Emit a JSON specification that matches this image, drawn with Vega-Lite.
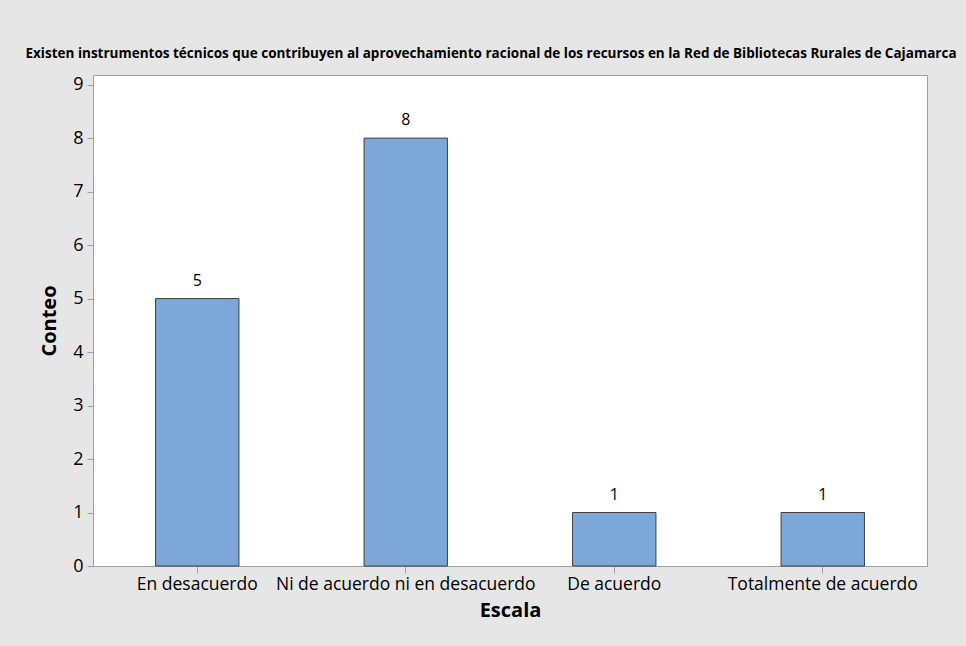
{
  "$schema": "https://vega.github.io/schema/vega-lite/v6.json",
  "autosize": {"type": "none"},
  "width": 834,
  "height": 491,
  "padding": {"left": 93, "top": 75, "right": 39, "bottom": 80},
  "background": "#e6e6e6",
  "title": {
    "text": "Existen instrumentos técnicos que contribuyen al aprovechamiento racional de los recursos en la Red de Bibliotecas Rurales de Cajamarca",
    "font": "Open Sans",
    "fontSize": 13.5,
    "fontWeight": "bold",
    "color": "#000000",
    "anchor": "middle",
    "dx": -19,
    "offset": 4,
    "baseline": "alphabetic"
  },
  "config": {
    "view": {"fill": "#ffffff", "stroke": "#a0a0a0", "strokeWidth": 1},
    "font": "Open Sans"
  },
  "data": {
    "values": [
      {"Escala": "En desacuerdo", "Conteo": 5},
      {"Escala": "Ni de acuerdo ni en desacuerdo", "Conteo": 8},
      {"Escala": "De acuerdo", "Conteo": 1},
      {"Escala": "Totalmente de acuerdo", "Conteo": 1}
    ]
  },
  "encoding": {
    "x": {
      "field": "Escala",
      "type": "nominal",
      "sort": null,
      "scale": {"paddingInner": 0.6, "paddingOuter": 0.3},
      "axis": {
        "title": "Escala",
        "titleFont": "Open Sans",
        "titleFontSize": 20,
        "titleFontWeight": "bold",
        "titleColor": "#000000",
        "titlePadding": 8,
        "labelFont": "Open Sans",
        "labelFontSize": 17.5,
        "labelColor": "#000000",
        "labelAngle": 0,
        "labelPadding": 2,
        "labelLimit": 0,
        "tickSize": 7,
        "tickColor": "#a0a0a0",
        "domain": false,
        "grid": false
      }
    },
    "y": {
      "field": "Conteo",
      "type": "quantitative",
      "scale": {"domain": [0, 9.18], "nice": false},
      "axis": {
        "title": "Conteo",
        "titleFont": "Open Sans",
        "titleFontSize": 20,
        "titleFontWeight": "bold",
        "titleColor": "#000000",
        "titlePadding": 13,
        "labelFont": "Open Sans",
        "labelFontSize": 18,
        "labelColor": "#000000",
        "labelPadding": 4,
        "values": [0, 1, 2, 3, 4, 5, 6, 7, 8, 9],
        "tickSize": 6,
        "tickColor": "#a0a0a0",
        "domain": false,
        "grid": false
      }
    }
  },
  "layer": [
    {
      "mark": {"type": "bar", "fill": "#7da7d9", "stroke": "#404040", "strokeWidth": 1}
    },
    {
      "mark": {"type": "text", "baseline": "alphabetic", "dy": -13, "fontSize": 16, "font": "Open Sans", "color": "#000000"},
      "encoding": {"text": {"field": "Conteo", "type": "quantitative"}}
    }
  ]
}
